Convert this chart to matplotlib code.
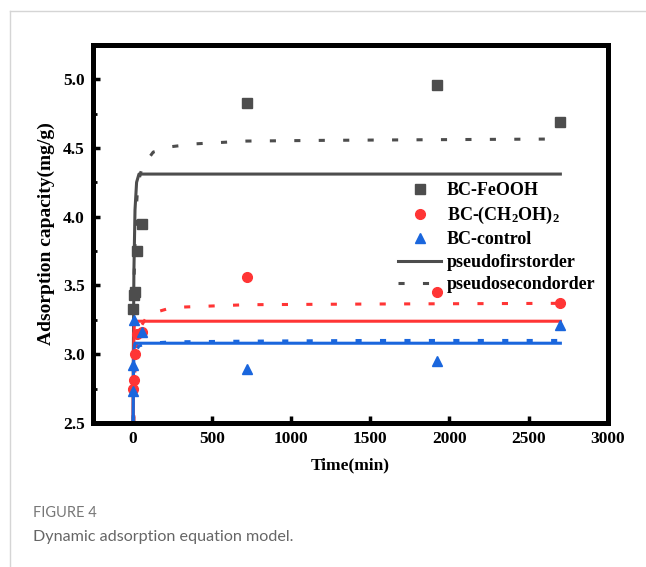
import matplotlib.pyplot as plt
from matplotlib.lines import Line2D

# measured points
t_pts = [5, 10, 15, 30, 60, 720, 1920, 2700]
q_feooh = [3.33, 3.43, 3.45, 3.75, 3.95, 4.83, 4.96, 4.69]
q_ch2oh = [2.75, 2.81, 3.00, 3.15, 3.16, 3.56, 3.45, 3.37]
t_ctrl = [0, 5, 10, 60, 720, 1920, 2700]
q_ctrl = [2.73, 2.92, 3.25, 3.16, 2.89, 2.95, 3.21]

# fitted curves
t_pfo = [0, 4, 8, 15, 25, 40, 2700]
q_pfo_feooh = [0, 2.90, 3.60, 4.05, 4.25, 4.31, 4.31]
t_pfo2 = [0, 3, 6, 10, 15, 2700]
q_pfo_ch2oh = [0, 2.60, 3.00, 3.20, 3.24, 3.24]
q_pfo_ctrl = [0, 2.50, 2.90, 3.05, 3.08, 3.08]

t_pso = [0, 5, 10, 20, 30, 40, 60, 130, 250, 400, 720, 1200, 1900, 2700]
q_pso_feooh = [0, 2.93, 3.58, 4.01, 4.18, 4.27, 4.36, 4.47, 4.51, 4.53, 4.55, 4.555, 4.56, 4.565]
t_pso2 = [0, 2, 5, 10, 20, 40, 100, 250, 720, 1500, 2700]
q_pso_ch2oh = [0, 1.60, 2.30, 2.75, 3.02, 3.18, 3.29, 3.34, 3.36, 3.365, 3.37]
q_pso_ctrl = [0, 2.20, 2.70, 2.93, 3.02, 3.06, 3.08, 3.09, 3.095, 3.10, 3.10]

gray = '#4d4d4d'
red = '#ff3535'
blue = '#1a66dd'

plt.rcParams['font.family'] = ['Liberation Serif']
plt.rcParams['font.weight'] = 'bold'
plt.rcParams['mathtext.fontset'] = 'custom'
plt.rcParams['mathtext.rm'] = 'Liberation Serif:bold'
plt.rcParams['mathtext.default'] = 'rm'

fig = plt.figure(figsize=(6.46, 5.67), dpi=100)
ax = fig.add_axes([0.144, 0.254, 0.797, 0.667])

dash = (0, (2, 6))
lw = 2.2
ax.plot(t_pfo, q_pfo_feooh, color=gray, lw=lw)
ax.plot(t_pso, q_pso_feooh, color=gray, lw=lw, linestyle=dash)
ax.plot(t_pfo2, q_pfo_ch2oh, color=red, lw=lw)
ax.plot(t_pso2, q_pso_ch2oh, color=red, lw=lw, linestyle=dash)
ax.plot(t_pfo2, q_pfo_ctrl, color=blue, lw=lw)
ax.plot(t_pso2, q_pso_ctrl, color=blue, lw=lw, linestyle=dash)

ax.plot(t_pts, q_feooh, 's', color=gray, ms=7, linestyle='none')
ax.plot(t_pts, q_ch2oh, 'o', color=red, ms=7, linestyle='none')
ax.plot(t_ctrl, q_ctrl, '^', color=blue, ms=7.5, linestyle='none')

ax.set_xlim(-250, 3000)
ax.set_ylim(2.5, 5.25)
ax.set_xticks([0, 500, 1000, 1500, 2000, 2500, 3000])
ax.set_yticks([2.5, 3.0, 3.5, 4.0, 4.5, 5.0])
ax.set_yticks([2.75, 3.25, 3.75, 4.25, 4.75], minor=True)
ax.tick_params(direction='in', length=5, width=2.5, labelsize=12.5, pad=6)
ax.tick_params(which='minor', direction='in', length=3, width=2)
for s in ax.spines.values():
    s.set_linewidth(3.6)

ax.set_xlabel('Time(min)', fontsize=12.5, fontweight='bold', labelpad=7)
ax.set_ylabel('Adsorption capacity(mg/g)', fontsize=14, fontweight='bold', labelpad=6)

handles = [
    Line2D([], [], marker='s', color=gray, ms=7, linestyle='none'),
    Line2D([], [], marker='o', color=red, ms=7, linestyle='none'),
    Line2D([], [], marker='^', color=blue, ms=7.5, linestyle='none'),
    Line2D([], [], color=gray, lw=lw),
    Line2D([], [], color=gray, lw=lw, linestyle=dash),
]
labels = ['BC-FeOOH', 'BC-(CH$_2$OH)$_2$', 'BC-control', 'pseudofirstorder', 'pseudosecondorder']
ax.legend(handles, labels, loc='upper right', bbox_to_anchor=(0.99, 0.655), frameon=False,
          prop={'family': 'Liberation Serif', 'weight': 'bold', 'size': 13},
          labelspacing=0.3, handlelength=2.4, handletextpad=0.3, borderaxespad=0)

# page frame and caption
fig.add_artist(Line2D([0.0155, 0.0155], [0, 0.981], color='#d5d5d5', lw=1))
fig.add_artist(Line2D([0.0155, 1], [0.981, 0.981], color='#d5d5d5', lw=1))
fig.text(0.051, 0.088, 'FIGURE 4', fontsize=10.5, color='#777777', family='Lato', weight='normal')
fig.text(0.051, 0.045, 'Dynamic adsorption equation model.', fontsize=11.6, color='#666666',
         family='Lato', weight='normal')

fig.savefig('out.png', dpi=100)
